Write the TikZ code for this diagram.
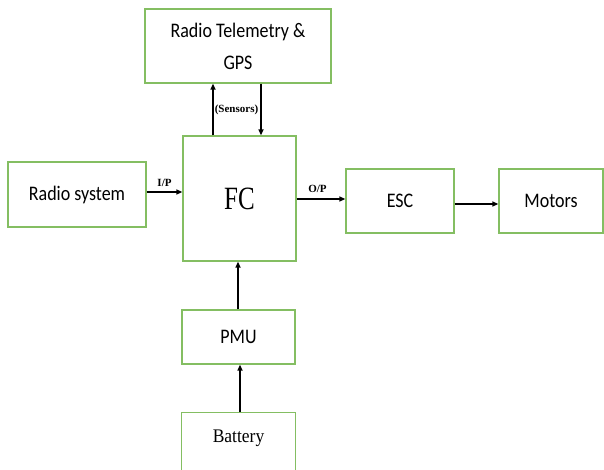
\documentclass[tikz,border=0pt]{standalone}
\usepackage{fontspec}
\setmainfont{Liberation Serif}
\newfontfamily\calib{Carlito}
\usetikzlibrary{arrows.meta}
\definecolor{boxgreen}{RGB}{132,190,98}
\newcommand{\vsq}[2][1.15]{\scalebox{1}[#1]{#2}}
\tikzset{
  blk/.style={draw=boxgreen, line width=1.3pt, fill=white, inner sep=0pt, align=center},
  arr/.style={draw=black, line width=1.5pt, -{Triangle[length=6pt,width=5pt]}},
  lbl/.style={font=\fontsize{11}{13}\selectfont\bfseries, inner sep=0pt},
  cal/.style={font=\calib\fontsize{18}{20}\selectfont}
}
\begin{document}
\begin{tikzpicture}[x=1pt,y=-1pt]
\useasboundingbox (0,0) rectangle (604,470);
\clip (0,0) rectangle (604,470);
\fill[white] (0,0) rectangle (604,470);
\node[blk, minimum width=186pt, minimum height=74pt, font=\calib\fontsize{18}{32}\selectfont] (tel) at (238,46) {\vsq{Radio Telemetry \&}\\\vsq{GPS}};
\node[blk, minimum width=113pt, minimum height=125pt, font=\fontsize{25}{30}\selectfont] (fc) at (239.5,198.5) {\vsq[1.3]{FC}};
\node[blk, cal, minimum width=138pt, minimum height=65pt] (rs) at (77,194.5) {\vsq{Radio system}};
\node[blk, cal, minimum width=108pt, minimum height=64pt] (esc) at (400,201) {\vsq{ESC}};
\node[blk, cal, minimum width=104pt, minimum height=64pt] (mot) at (551,201) {\vsq{Motors}};
\node[blk, cal, minimum width=113pt, minimum height=54pt] (pmu) at (238.5,337) {\vsq{PMU}};
\node[blk, draw=none, minimum width=113pt, minimum height=50pt, font=\fontsize{17.5}{20}\selectfont] (bat) at (238.5,438) {\vsq[1.1]{Battery}};
\draw[draw=boxgreen, line width=1.3pt] (bat.north west) ++(0,-60pt) -- (bat.north west) -- (bat.north east) -- ++(0,-60pt);
% arrows
\draw[arr] (fc.north -| 213,0) -- (tel.south -| 213,0);
\draw[arr] (tel.south -| 261,0) -- (fc.north -| 261,0);
\node[lbl] (sens) at (236.5,110) {(Sensors)};
\draw[arr] (rs.east |- 0,192) -- (fc.west |- 0,192);
\node[lbl] (ip) at (164.5,183) {I/P};
\draw[arr] (fc.east |- 0,199) -- (esc.west |- 0,199);
\node[lbl] (op) at (317.5,189) {O/P};
\draw[arr, line width=2.2pt] (esc.east |- 0,204) -- (mot.west |- 0,204);
\draw[arr] (pmu.north -| 238,0) -- (fc.south -| 238,0);
\draw[arr] (bat.north -| 240,0) -- (pmu.south -| 240,0);
\end{tikzpicture}
\end{document}
